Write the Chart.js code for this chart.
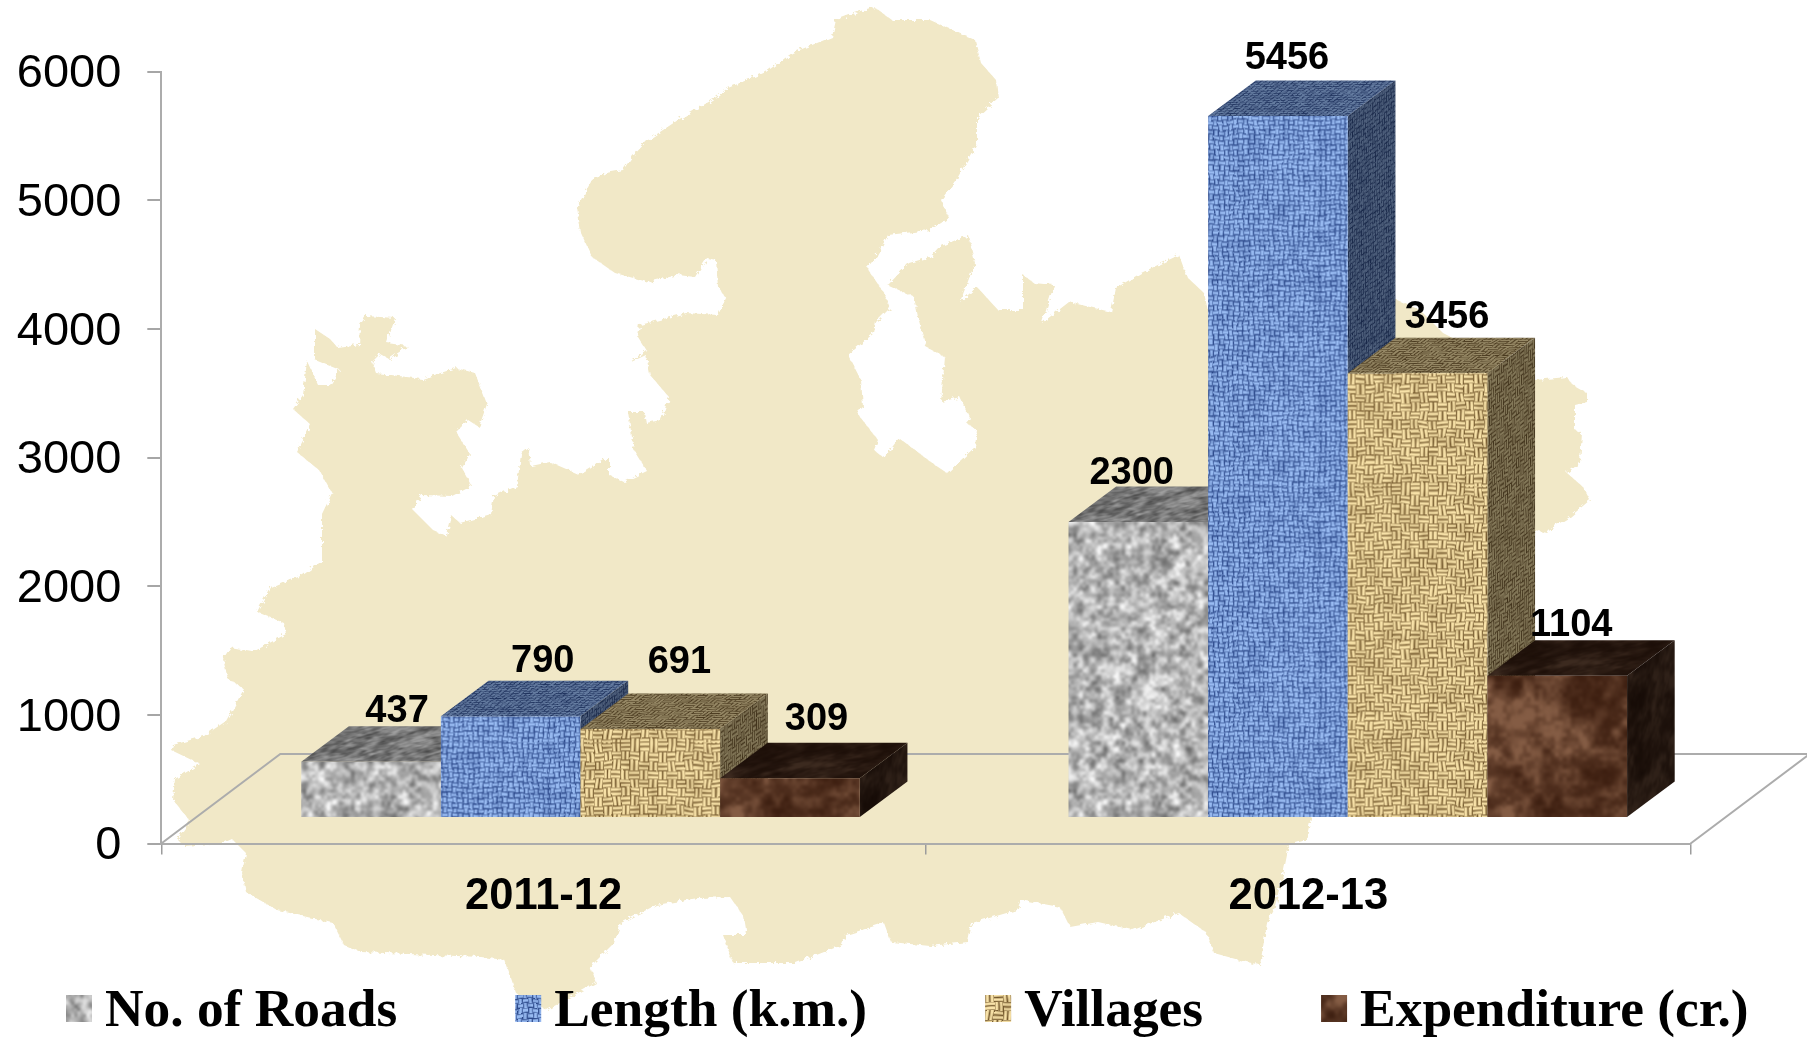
<!DOCTYPE html>
<html>
<head>
<meta charset="utf-8">
<title>Rural roads 2011-12 and 2012-13</title>
<style>
html,body{margin:0;padding:0;background:#fff;width:1807px;height:1038px;overflow:hidden}
#map{position:absolute;left:0;top:0;width:1807px;height:1038px}
#chart{position:absolute;left:0;top:0}
</style>
<script src="https://cdn.jsdelivr.net/npm/chart.js@4"></script>
</head>
<body>
<svg id="map" viewBox="0 0 1807 1038" xmlns="http://www.w3.org/2000/svg">
<defs><filter id="rough" x="-5%" y="-5%" width="110%" height="110%">
<feTurbulence type="fractalNoise" baseFrequency="0.22" numOctaves="3" seed="4"/>
<feDisplacementMap in="SourceGraphic" scale="6"/>
</filter></defs>
<path id="mapShape" fill="#f1e8c7" filter="url(#rough)"/>
</svg>
<canvas id="chart" width="1807" height="1038"></canvas>
<script>
// ---- chart values ----
const categories = ['2011-12', '2012-13'];
const seriesNames = ['No. of Roads', 'Length (k.m.)', 'Villages', 'Expenditure (cr.)'];
const noOfRoads = [437, 2300];
const lengthKm = [790, 5456];
const villages = [691, 3456];
const expenditure = [309, 1104];
const yTicks = { min: 0, max: 6000, step: 1000 };

// ---- background silhouette (decoration, not data) ----
const mapOutline = [
[874,7],[892,20],[930,20],[975,40],[981,63],[996,80],[998,98],[977,117],[977,143],[958,177],[941,200],[949,218],[930,230],[888,235],[876,257],[867,268],[884,293],[890,308],[876,322],[874,333],[848,355],[861,380],[863,407],[857,413],[878,440],[874,450],[884,458],[899,438],[935,465],[947,473],[975,447],[977,430],[966,423],[970,418],[960,397],[941,402],[945,357],[926,347],[918,317],[914,297],[888,285],[909,263],[930,257],[939,247],[968,235],[975,263],[960,302],[977,287],[998,310],[1023,310],[1023,275],[1034,283],[1054,285],[1042,323],[1069,302],[1111,312],[1116,288],[1141,273],[1179,255],[1187,277],[1204,293],[1210,320],[1397,300],[1420,310],[1443,333],[1535,380],[1567,377],[1573,385],[1587,393],[1587,402],[1575,405],[1575,430],[1582,433],[1580,463],[1567,473],[1583,487],[1590,500],[1570,517],[1553,527],[1547,533],[1535,530],[1500,620],[1420,700],[1311,818],[1306,840],[1289,845],[1284,870],[1274,910],[1267,923],[1260,965],[1239,960],[1214,953],[1207,933],[1179,913],[1133,930],[1098,922],[1070,927],[1060,907],[1021,900],[1017,910],[972,923],[968,942],[930,946],[891,942],[884,923],[846,935],[842,945],[796,963],[733,963],[723,935],[747,935],[744,917],[730,897],[698,898],[656,905],[621,923],[614,943],[590,967],[596,983],[547,1010],[516,993],[505,960],[481,957],[361,952],[344,945],[333,923],[277,910],[246,892],[242,873],[246,853],[232,839],[223,843],[184,846],[177,839],[190,821],[173,800],[175,779],[200,764],[171,750],[173,745],[204,736],[226,721],[244,689],[228,679],[223,659],[230,648],[253,652],[286,634],[284,623],[257,612],[269,589],[303,575],[322,561],[322,514],[332,493],[320,471],[297,452],[311,425],[293,409],[303,395],[307,361],[318,385],[330,385],[340,370],[315,360],[315,329],[330,339],[338,348],[359,345],[360,325],[366,316],[395,318],[387,343],[408,346],[389,359],[380,354],[372,362],[376,373],[422,379],[456,368],[475,373],[487,404],[479,427],[468,420],[456,432],[470,454],[462,468],[472,486],[452,496],[422,495],[412,509],[433,530],[447,536],[452,516],[460,523],[491,514],[494,496],[517,486],[521,454],[529,448],[531,466],[550,462],[580,475],[609,457],[609,475],[624,482],[647,471],[634,450],[628,412],[644,412],[646,423],[661,420],[669,397],[650,375],[646,355],[629,363],[646,350],[638,337],[640,325],[686,313],[718,315],[726,298],[718,287],[716,260],[707,258],[695,277],[678,275],[648,282],[615,273],[592,257],[581,233],[577,207],[592,180],[606,173],[623,170],[632,157],[648,140],[678,120],[712,100],[728,88],[766,72],[792,53],[832,37],[836,20],[863,10]
];
document.getElementById('mapShape').setAttribute('d', 'M' + mapOutline.map(p => p.join(' ')).join('L') + 'Z');

// ---- procedural surface textures ----
function hash(x, y, s) {
  let n = (Math.imul(x, 374761393) + Math.imul(y, 668265263) + Math.imul(s, 1274126177)) | 0;
  n = Math.imul(n ^ (n >>> 13), 1274126177);
  return ((n ^ (n >>> 16)) >>> 0) / 4294967295;
}
function vnoise(x, y, cell, s, size) {
  const n = Math.round(size / cell), c = size / n;
  const gx = Math.floor(x / c), gy = Math.floor(y / c);
  let fx = x / c - gx, fy = y / c - gy;
  fx = fx * fx * (3 - 2 * fx); fy = fy * fy * (3 - 2 * fy);
  const w = (a) => ((a % n) + n) % n;
  const a = hash(w(gx), w(gy), s), b = hash(w(gx + 1), w(gy), s);
  const d = hash(w(gx), w(gy + 1), s), e = hash(w(gx + 1), w(gy + 1), s);
  return (a + (b - a) * fx) * (1 - fy) + (d + (e - d) * fx) * fy;
}
const mix = (c1, c2, t) => { t = Math.max(0, Math.min(1, t)); return [0, 1, 2].map(i => c1[i] + (c2[i] - c1[i]) * t); };
function makeTile(fn, blur) {
  const size = 256, raw = document.createElement('canvas');
  raw.width = raw.height = size;
  const rc = raw.getContext('2d'), img = rc.createImageData(size, size);
  for (let y = 0; y < size; y++) for (let x = 0; x < size; x++) {
    const c = fn(x, y, size), i = (y * size + x) * 4;
    img.data[i] = c[0]; img.data[i + 1] = c[1]; img.data[i + 2] = c[2]; img.data[i + 3] = 255;
  }
  rc.putImageData(img, 0, 0);
  // tile first, then blur, so that the repeat leaves no seams
  const big = document.createElement('canvas');
  big.width = big.height = size * 3;
  const bc = big.getContext('2d');
  for (let i = 0; i < 3; i++) for (let j = 0; j < 3; j++) bc.drawImage(raw, i * size, j * size);
  const out = document.createElement('canvas');
  out.width = out.height = size;
  const oc = out.getContext('2d');
  oc.filter = 'blur(' + blur + 'px)';
  oc.drawImage(big, -size, -size);
  return out;
}
// basket weave: blocks of parallel threads, alternating direction, slightly warped
function basket(x, y, p, threads, s, size) {
  const wx = x + 3 * (vnoise(x, y, 16, s, size) - .5), wy = y + 3 * (vnoise(x, y, 16, s + 11, size) - .5);
  const b = p * threads;
  const horiz = (Math.floor(wx / b) + Math.floor(wy / b)) % 2 === 0;
  const mod = (v) => ((v % p) + p) % p;
  return horiz ? Math.sin(Math.PI * mod(wy) / p) : Math.sin(Math.PI * mod(wx) / p);
}
const tiles = [
  makeTile((x, y, s) => {
    const n = .5 * vnoise(x, y, 6, 1, s) + .35 * vnoise(x, y, 3, 2, s) + .15 * vnoise(x, y, 14, 3, s);
    const v = 182 + (n - .5) * 200; return [v, v, v];
  }, .8),
  makeTile((x, y, s) => {
    const t = .1 + .9 * basket(x, y, 5, 1, 4, s);
    return mix([30, 58, 125], [152, 187, 242], t * (.75 + .5 * vnoise(x, y, 5, 5, s)));
  }, .5),
  makeTile((x, y, s) => {
    const t = .1 + .9 * basket(x, y, 4.5, 2, 6, s);
    return mix([100, 72, 30], [248, 226, 168], t * (.85 + .35 * vnoise(x, y, 8, 7, s)));
  }, .5),
  makeTile((x, y, s) => {
    const n = .45 * vnoise(x, y, 32, 8, s) + .35 * vnoise(x, y, 10, 9, s) + .2 * vnoise(x, y, 4, 10, s);
    return mix([58, 28, 14], [132, 92, 68], Math.pow(n, 2) * 2);
  }, .8)
];
function shaded(tile, factor) {
  const c = document.createElement('canvas');
  c.width = c.height = tile.width;
  const x = c.getContext('2d');
  x.drawImage(tile, 0, 0);
  x.globalCompositeOperation = 'multiply';
  x.fillStyle = `rgb(${factor},${factor},${factor})`;
  x.fillRect(0, 0, c.width, c.height);
  return c;
}
const pctx = document.getElementById('chart').getContext('2d');
const frontPatterns = tiles.map(t => pctx.createPattern(t, 'repeat'));
const topPatterns = [165, 170, 155, 115].map((f, i) => pctx.createPattern(shaded(tiles[i], f), 'repeat'));
const sidePatterns = [130, 130, 135, 90].map((f, i) => pctx.createPattern(shaded(tiles[i], f), 'repeat'));

// ---- 3-D drawing settings ----
const depth = { dx: 47.5, dy: 35.5 };
const plane = { sx: 1.0034, tx: 35.05, ty: -25.6 };
const labelNudge = {
  x: [[26, -6.6], [32, 9], [29, 29.5], [26.5, 14]],
  y: [[14.3, 12.8], [19.3, 22.3], [31.3, 20.3], [23.3, 15.3]]
};

const box3d = {
  id: 'box3d',
  beforeDatasetsDraw(chart) {
    const { ctx, chartArea: a } = chart;
    ctx.save();
    ctx.strokeStyle = '#acacac';
    ctx.lineWidth = 2;
    ctx.beginPath();
    ctx.moveTo(a.left, a.bottom);
    ctx.lineTo(a.left + 119, a.bottom - 89.5);
    ctx.lineTo(a.right + 119, a.bottom - 89.5);
    ctx.lineTo(a.right, a.bottom);
    ctx.stroke();
    ctx.restore();
  },
  beforeDatasetDraw() { return false; },
  afterDatasetsDraw(chart) {
    const { ctx } = chart;
    ctx.save();
    ctx.transform(plane.sx, 0, 0, 1, plane.tx, plane.ty);
    chart.data.datasets.forEach((ds, i) => {
      const meta = chart.getDatasetMeta(i);
      meta.data.forEach(bar => {
        const l = bar.x - bar.width / 2, r = bar.x + bar.width / 2, y = bar.y, b = bar.base;
        const { dx, dy } = depth;
        ctx.save();
        ctx.beginPath();
        ctx.moveTo(l, y); ctx.lineTo(r, y); ctx.lineTo(r + dx, y - dy); ctx.lineTo(l + dx, y - dy); ctx.closePath();
        ctx.clip();
        ctx.translate(l, y);
        ctx.transform(1, 0, -(dx / dy) * .45, .45, 0, 0);
        ctx.fillStyle = topPatterns[i];
        ctx.fillRect(-3000, -3000, 6000, 6000);
        ctx.restore();
        ctx.save();
        ctx.beginPath();
        ctx.moveTo(r, y); ctx.lineTo(r + dx, y - dy); ctx.lineTo(r + dx, b - dy); ctx.lineTo(r, b); ctx.closePath();
        ctx.clip();
        ctx.translate(r, y);
        ctx.transform(.45, -(dy / dx) * .45, 0, 1, 0, 0);
        ctx.fillStyle = sidePatterns[i];
        ctx.fillRect(-3000, -3000, 6000, 6000);
        ctx.restore();
      });
      meta.controller.draw();
    });
    ctx.restore();

    ctx.save();
    ctx.font = 'bold 38px "Liberation Sans"';
    ctx.fillStyle = '#000';
    ctx.textAlign = 'center';
    ctx.textBaseline = 'middle';
    chart.data.datasets.forEach((ds, i) => {
      chart.getDatasetMeta(i).data.forEach((bar, j) => {
        const x = bar.x * plane.sx + plane.tx + labelNudge.x[i][j];
        const y = bar.y + plane.ty - depth.dy - labelNudge.y[i][j];
        ctx.fillText(String(ds.data[j]), x, y);
      });
    });
    ctx.restore();
  },
  afterDraw(chart) {
    const { ctx } = chart;
    ctx.save();
    ctx.font = 'bold 53.4px "Liberation Serif"';
    ctx.textBaseline = 'alphabetic';
    ctx.textAlign = 'left';
    let x = 66;
    chart.data.datasets.forEach((ds) => {
      ctx.fillStyle = ds.backgroundColor;
      ctx.fillRect(x, 995, 26, 27);
      ctx.fillStyle = '#000';
      ctx.fillText(ds.label, x + 39, 1026);
      x += 39 + ctx.measureText(ds.label).width + 118;
    });
    ctx.restore();
  }
};

new Chart(document.getElementById('chart'), {
  type: 'bar',
  plugins: [box3d],
  data: {
    labels: categories,
    datasets: [noOfRoads, lengthKm, villages, expenditure].map((values, i) => ({
      label: seriesNames[i],
      data: values,
      backgroundColor: frontPatterns[i],
      borderWidth: 0,
      categoryPercentage: .728,
      barPercentage: 1
    }))
  },
  options: {
    responsive: false,
    animation: false,
    devicePixelRatio: 1,
    layout: { padding: { top: 71.5, right: 116.4, bottom: 94.5, left: 0 } },
    plugins: { legend: { display: false }, title: { display: false }, tooltip: { enabled: false } },
    scales: {
      x: {
        afterFit(s) { s.height = 100; },
        grid: { drawOnChartArea: false, drawTicks: true, tickLength: 11, tickColor: '#9c9c9c', lineWidth: 1.5 },
        border: { color: '#acacac', width: 2 },
        ticks: { color: '#000', padding: 16, maxRotation: 0, font: { family: '"Liberation Sans"', size: 43.5, weight: 'bold' } }
      },
      y: {
        min: yTicks.min,
        max: yTicks.max,
        afterFit(s) { s.width = 161.3; },
        grid: { drawOnChartArea: false, drawTicks: true, tickLength: 14, tickColor: '#a6a6a6', lineWidth: 2 },
        border: { color: '#acacac', width: 2 },
        ticks: {
          color: '#000', stepSize: yTicks.step, padding: 26, labelOffset: 3,
          font: { family: '"Liberation Sans"', size: 47 },
          callback: v => String(v)
        }
      }
    }
  }
});
</script>
</body>
</html>
